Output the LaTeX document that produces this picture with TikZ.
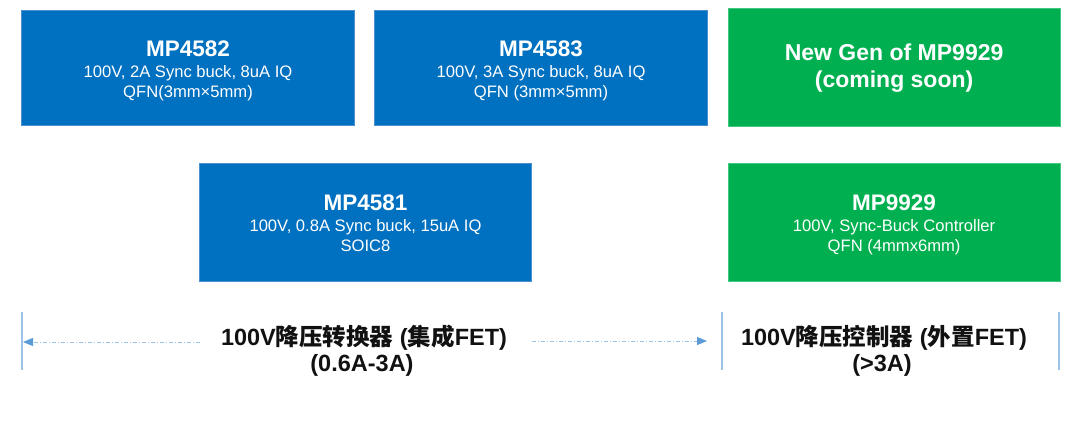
\documentclass[tikz,border=0pt]{standalone}
\usepackage{fontspec}
\setmainfont{Liberation Sans}
\newfontfamily\cjk{Noto Sans CJK SC}
\usetikzlibrary{arrows.meta}
\definecolor{boxblue}{HTML}{0070C0}
\definecolor{boxgreen}{HTML}{00B050}
\definecolor{edgeblue}{HTML}{4A90D0}
\definecolor{edgegreen}{HTML}{40C880}
\definecolor{linelight}{HTML}{9DC3E6}
\definecolor{tipblue}{HTML}{5B9BD5}
\definecolor{txtdark}{HTML}{111111}
\tikzset{
  bluebox/.style={rectangle, fill=boxblue, draw=edgeblue, line width=0.6pt, inner sep=0pt},
  greenbox/.style={rectangle, fill=boxgreen, draw=edgegreen, line width=0.6pt, inner sep=0pt},
  boxtxt/.style={align=center, text=white, inner sep=0pt, font=\fontsize{16.6}{20.5}\selectfont},
  bigtxt/.style={align=center, text=white, inner sep=0pt, font=\fontsize{23}{27}\selectfont\bfseries},
  bottomlbl/.style={anchor=base, inner sep=0pt, text=txtdark, font=\fontsize{23.5}{26}\selectfont\bfseries},
  sepline/.style={draw=linelight, line width=1.8pt},
  dimarrow/.style={draw=linelight, line width=1pt, dash pattern=on 4pt off 2pt on 1pt off 2pt,
     -{Triangle[length=10pt,width=8pt,color=tipblue]}}
}
\newcommand{\ttl}[1]{{\fontsize{22.5}{24}\selectfont\bfseries #1}}
\begin{document}
\begin{tikzpicture}[x=1pt,y=-1pt]
\useasboundingbox (0,0) rectangle (1080,424);
% boxes
\node[bluebox, minimum width=332.6pt, minimum height=115pt] (b1) at (188,67.5) {};
\node[bluebox, minimum width=333.4pt, minimum height=115pt] (b2) at (541,67.5) {};
\node[greenbox, minimum width=331.7pt, minimum height=118.4pt] (g1) at (894.1,67.5) {};
\node[bluebox, minimum width=332.4pt, minimum height=118.4pt] (b3) at (365.5,222.5) {};
\node[greenbox, minimum width=331.7pt, minimum height=118.4pt] (g2) at (894.1,222.5) {};
% box texts
\node[boxtxt] (t1) at ([yshift=-3.6pt]b1.center) {\ttl{MP4582}\\[0.5pt]100V, 2A Sync buck, 8uA IQ\\QFN(3mm\texttimes 5mm)};
\node[boxtxt] (t2) at ([yshift=-3.6pt]b2.center) {\ttl{MP4583}\\[0.5pt]100V, 3A Sync buck, 8uA IQ\\QFN (3mm\texttimes 5mm)};
\node[bigtxt] (t3) at ([yshift=-1pt]g1.center) {New Gen of MP9929\\(coming soon)};
\node[boxtxt] (t4) at ([yshift=-0.6pt]b3.center) {\ttl{MP4581}\\[0.5pt]100V, 0.8A Sync buck, 15uA IQ\\SOIC8};
\node[boxtxt] (t5) at ([yshift=-2.3pt]g2.center) {\ttl{MP9929}\\[0.5pt]100V, Sync-Buck Controller\\QFN (4mmx6mm)};
% separator lines
\coordinate (v1a) at (22,312); \coordinate (v1b) at (22,370);
\coordinate (v2a) at (722,312); \coordinate (v2b) at (722,370);
\coordinate (v3a) at (1059,312); \coordinate (v3b) at (1059,370);
\draw[sepline] (v1a) -- (v1b);
\draw[sepline] (v2a) -- (v2b);
\draw[sepline] (v3a) -- (v3b);
% arrows
\coordinate (a1s) at (200,342); \coordinate (a1e) at (23,342);
\coordinate (a2s) at (532,341); \coordinate (a2e) at (707,341);
\draw[dimarrow] (a1s) -- (a1e);
\draw[dimarrow] (a2s) -- (a2e);
% bottom labels
\node[bottomlbl] (l1) at (364,345) {100V{\cjk 降压转换器} ({\cjk 集成}FET)};
\node[bottomlbl] (l2) at (362,371) {(0.6A-3A)};
\node[bottomlbl] (r1) at (884,345) {100V{\cjk 降压控制器} ({\cjk 外置}FET)};
\node[bottomlbl] (r2) at (882,371) {(>3A)};
\end{tikzpicture}
\end{document}
